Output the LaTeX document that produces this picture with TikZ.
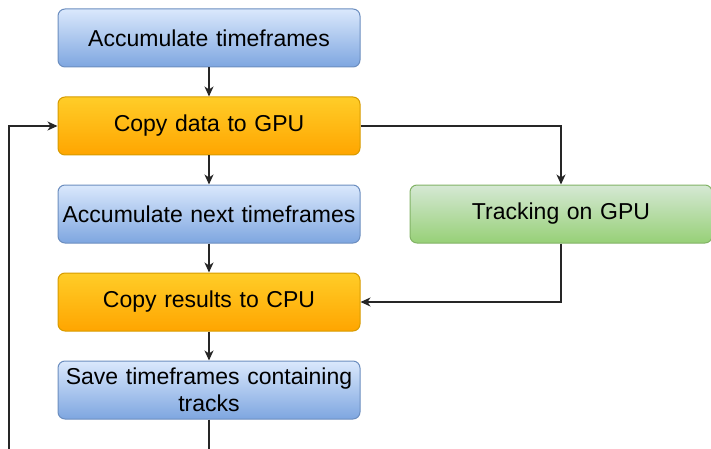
\documentclass[tikz,border=0pt]{standalone}
\usepackage{fontspec}
\setmainfont{Liberation Sans}
\usetikzlibrary{arrows.meta}
\definecolor{bluetop}{HTML}{DAE8FC}
\definecolor{bluebot}{HTML}{7EA6E0}
\definecolor{bluedraw}{HTML}{6C8EBF}
\definecolor{orangetop}{HTML}{FFCD28}
\definecolor{orangebot}{HTML}{FFA500}
\definecolor{orangedraw}{HTML}{D79B00}
\definecolor{greentop}{HTML}{D5E8D4}
\definecolor{greenbot}{HTML}{97D077}
\definecolor{greendraw}{HTML}{82B366}
\tikzset{
  box/.style={rectangle, rounded corners=7pt, minimum width=302pt, minimum height=58pt,
    text width=300pt, align=center, inner sep=0pt, line width=1pt,
    font=\fontsize{23}{27}\selectfont},
  bluebox/.style={box, draw=bluedraw, top color=bluetop, bottom color=bluebot},
  orangebox/.style={box, draw=orangedraw, top color=orangetop, bottom color=orangebot},
  greenbox/.style={box, draw=greendraw, top color=greentop, bottom color=greenbot},
  conn/.style={line width=1.2pt, draw=black!85, -{Stealth[length=10pt,width=9pt,inset=3pt]}},
  plain/.style={line width=1.2pt, draw=black!85}
}
\begin{document}
\begin{tikzpicture}[x=1pt,y=-1pt]
\useasboundingbox (0,0) rectangle (711,449);
\node[bluebox] (acc) at (209,38) {Accumulate timeframes};
\node[orangebox] (copy) at (209,126) {Copy data to GPU};
\node[bluebox] (accn) at (209,214) {Accumulate next timeframes};
\node[greenbox] (track) at (561,214) {Tracking on GPU};
\node[orangebox] (res) at (209,302) {Copy results to CPU};
\node[bluebox] (save) at (209,390) {Save timeframes containing\\tracks};
\coordinate (bot) at (209,449);
\coordinate (loopb) at (9,449);
\draw[conn] (acc) -- (copy);
\draw[conn] (copy) -- (accn);
\draw[conn] (accn) -- (res);
\draw[conn] (res) -- (save);
\draw[plain] (save) -- (bot);
\draw[conn] (copy.east) -| (track.north);
\draw[conn] (track.south) |- (res.east);
\draw[conn] (loopb) |- (copy.west);
\end{tikzpicture}
\end{document}
